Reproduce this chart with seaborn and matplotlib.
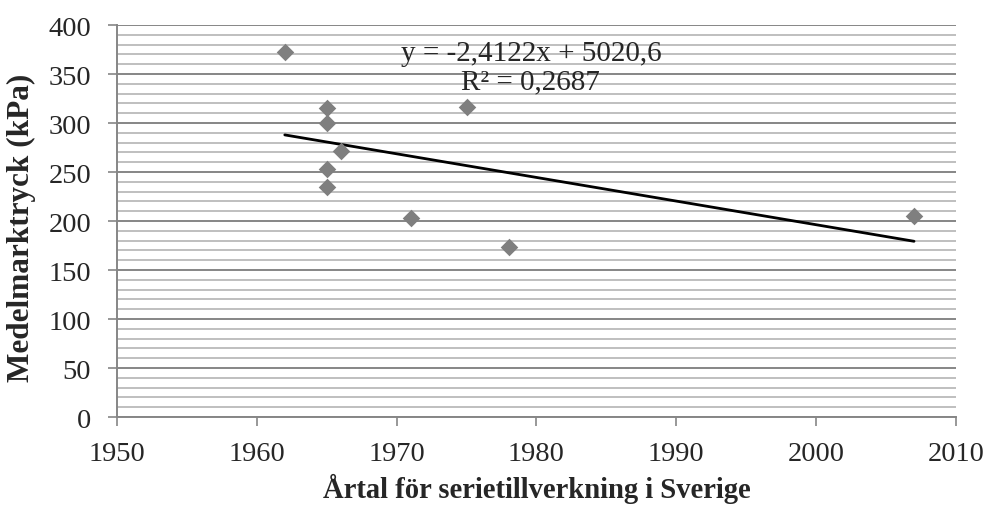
import matplotlib
matplotlib.use("Agg")
import matplotlib.pyplot as plt
import seaborn as sns
import numpy as np
import pandas as pd
from matplotlib.ticker import MultipleLocator

# Production start year in Sweden and mean ground pressure (kPa)
years = [1962, 1965, 1965, 1965, 1965, 1966, 1971, 1975, 1978, 2007]
pressure = [372, 315, 300, 253, 235, 271, 203, 316, 173, 205]

# Linear trendline coefficients as stated on the chart
slope = -2.4122
intercept = 5020.6
r_squared = 0.2687

x_ticks = [1950, 1960, 1970, 1980, 1990, 2000, 2010]
y_ticks = [0, 50, 100, 150, 200, 250, 300, 350, 400]

df = pd.DataFrame({"year": years, "pressure": pressure})

sns.set_theme(style="white")
plt.rcParams["font.family"] = ["Liberation Serif", "DejaVu Serif"]

fig = plt.figure(figsize=(9.88, 5.06), dpi=100)
ax = fig.add_axes([0.1184, 0.1739, 0.8492, 0.7747])

# grid: minor every 10, major every 50
ax.yaxis.set_major_locator(MultipleLocator(50))
ax.yaxis.set_minor_locator(MultipleLocator(10))
ax.grid(which="minor", axis="y", color="#bfbfbf", linewidth=1.4, zorder=0)
ax.grid(which="major", axis="y", color="#868686", linewidth=1.4, zorder=0)
ax.grid(axis="x", visible=False)

sns.scatterplot(data=df, x="year", y="pressure", marker="D", s=80,
                color="#7f7f7f", edgecolor="#7f7f7f", linewidth=0, ax=ax, zorder=3)

trend_x = np.array([min(years), max(years)])
ax.plot(trend_x, slope * trend_x + intercept, color="black", linewidth=2, zorder=2)

ax.set_xlim(1950, 2010)
ax.set_ylim(0, 400)
ax.set_xticks(x_ticks)
ax.set_yticks(y_ticks)
ax.tick_params(axis="both", which="major", labelsize=20.5, length=6.5, width=1.2,
               color="#868686", direction="out", bottom=True, left=True)
ax.tick_params(axis="x", which="major", pad=11)
ax.tick_params(axis="y", which="major", pad=12)
ax.tick_params(axis="y", which="minor", length=0)

for side in ["top", "right"]:
    ax.spines[side].set_visible(False)
for side in ["left", "bottom"]:
    ax.spines[side].set_color("#868686")
    ax.spines[side].set_linewidth(1.4)

ax.set_xlabel("Årtal för serietillverkning i Sverige", fontsize=20.6,
              fontweight="bold", labelpad=5)
ax.set_ylabel("Medelmarktryck (kPa)", fontsize=22.5, fontweight="bold")
ax.yaxis.set_label_coords(-0.097, 0.485)

eq_text = "y = -2,4122x + 5020,6\nR² = 0,2687"
ax.text(1979.6, 357, eq_text, ha="center", va="center", fontsize=21,
        linespacing=1.12, zorder=4)

fig.savefig("out.png", dpi=100)
